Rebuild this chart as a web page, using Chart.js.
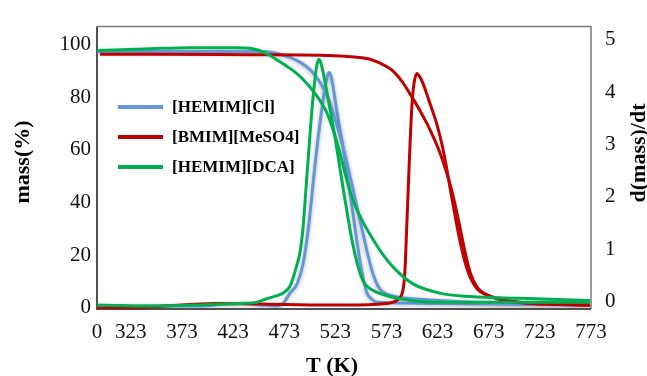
<!DOCTYPE html>
<html><head><meta charset="utf-8">
<script src="https://cdn.jsdelivr.net/npm/chart.js@4.4.1/dist/chart.umd.min.js"></script>
<style>html,body{margin:0;padding:0;background:#fff;}#wrap{width:647px;height:376px;position:relative;}</style>
</head><body><div id="wrap"><canvas id="c" width="647" height="376"></canvas></div>
<script>
// ---- ticks & labels ----
const xTickValues = [290, 323, 373, 423, 473, 523, 573, 623, 673, 723, 773];
const xTickLabels = ['0', '323', '373', '423', '473', '523', '573', '623', '673', '723', '773'];
const massTicks = [0, 20, 40, 60, 80, 100];
const rateTicks = [0, 1, 2, 3, 4, 5];
const seriesNames = ['[HEMIM][Cl]', '[BMIM][MeSO4]', '[HEMIM][DCA]'];
const seriesColors = ['#6497DA', '#C00000', '#00B050'];
const xTitle = 'T (K)';
const leftTitle = 'mass(%)';
const rightTitle = 'd(mass)/dt';

// ---- [HEMIM][Cl] ----
const clMassT = [290, 391, 452, 460, 470, 480, 490, 498, 505, 511, 516, 521, 525.6, 530.5, 534.4, 539.3, 543.2, 547.1, 551, 553.9, 557.8, 561.7, 566.6, 571, 576.4, 593, 625, 674, 772];
const clMass  = [97.4, 97.4, 97.4, 97.1, 96.3, 95.0, 93.0, 90.6, 87.4, 83.8, 79.8, 74.0, 68.0, 61.2, 55.0, 46.8, 40.0, 33.2, 26.6, 21.6, 15.6, 10.8, 7.0, 5.6, 4.7, 3.5, 2.7, 1.6, 0.9];
const clRateT = [290, 391, 415, 430, 449, 466, 472, 478.7, 485.5, 491.4, 496.3, 499.2, 502.1, 506, 509.9, 512.9, 514.9, 516.8, 518.8, 520.7, 524.6, 530.5, 535.4, 540.3, 544.2, 547.1, 551, 553.9, 558.8, 563.7, 625, 772];
const clRate  = [-0.09, -0.09, -0.05, -0.04, -0.07, -0.09, -0.04, 0.16, 0.33, 0.71, 1.34, 1.85, 2.42, 3.10, 3.68, 4.08, 4.28, 4.38, 4.31, 4.12, 3.62, 2.95, 2.32, 1.67, 1.14, 0.77, 0.38, 0.16, 0.04, -0.02, -0.04, -0.07];

// ---- [BMIM][MeSO4] ----
const msMassT = [293, 342, 440, 508, 532, 557, 574, 581, 589, 599, 606, 613, 618, 625, 630, 635, 640, 645, 650, 655, 662, 671, 681, 704, 772];
const msMass  = [96.4, 96.4, 96.2, 96.0, 95.6, 94.5, 91.5, 89.4, 85.6, 79.4, 74.8, 69.7, 65.6, 59.2, 53.6, 47.2, 39.4, 30.3, 20.8, 13.2, 7.6, 4.9, 3.5, 2.0, 0.9];
const msRateT = [290, 342, 407, 449, 518, 544, 567, 579, 584, 587, 589, 590.5, 591.5, 592.5, 593.5, 594.5, 595.5, 596.5, 597.5, 598.7, 600.2, 602.8, 605.7, 608.7, 612, 616, 622.4, 628.2, 632.1, 635.1, 639.9, 644.8, 649.7, 654.6, 661.5, 671.2, 681, 713, 772];
const msRate  = [-0.13, -0.11, -0.04, -0.05, -0.07, -0.07, -0.05, -0.02, 0.03, 0.09, 0.2, 0.42, 0.75, 1.25, 1.75, 2.25, 2.75, 3.2, 3.6, 3.95, 4.2, 4.36, 4.29, 4.17, 3.99, 3.76, 3.38, 2.92, 2.52, 2.18, 1.66, 1.16, 0.76, 0.47, 0.24, 0.12, 0.05, -0.04, -0.07];

// ---- [HEMIM][DCA] ----
const dcaMassT = [290, 342, 381, 425, 435, 442, 448, 454, 460, 469, 479, 486, 492, 498, 504, 510, 514, 518, 522, 525.6, 529.5, 533.4, 537.3, 543.2, 550, 557, 567, 581, 599, 625, 655, 704, 772];
const dcaMass  = [97.8, 98.5, 98.9, 98.9, 98.8, 98.5, 97.9, 96.9, 95.7, 93.5, 90.9, 88.8, 86.6, 84.0, 81.0, 77.5, 74.7, 70.8, 66.2, 61.6, 55.8, 49.8, 44.4, 38.0, 32.6, 27.8, 21.6, 14.8, 9.0, 5.5, 4.2, 3.5, 2.7];
const dcaRateT = [290, 342, 391, 430, 446, 456, 466, 472, 478.7, 481.6, 485.5, 488.4, 491.4, 493.3, 495.3, 498.2, 500.2, 503.1, 505, 507, 509, 510.9, 515.8, 522.6, 527.5, 531.5, 535.4, 539.3, 544.2, 548.2, 552, 558.8, 566.6, 586.2, 625, 684, 772];
const dcaRate  = [-0.07, -0.09, -0.07, -0.04, -0.02, 0.05, 0.11, 0.16, 0.29, 0.44, 0.70, 0.93, 1.40, 1.88, 2.42, 3.18, 3.68, 4.25, 4.52, 4.63, 4.55, 4.40, 3.90, 3.15, 2.55, 2.06, 1.60, 1.17, 0.74, 0.48, 0.33, 0.22, 0.15, 0.05, -0.02, -0.02, -0.02];

const SERIF = '"Liberation Serif", "Times New Roman", serif';
const pts = (xs, ys) => xs.map((x, i) => ({ x: x, y: ys[i] }));

function ds(label, color, xs, ys, axis, order, legend, shadow) {
  return {
    label: label, data: pts(xs, ys), yAxisID: axis, order: order,
    borderColor: color, backgroundColor: color, borderWidth: 3,
    pointRadius: 0, cubicInterpolationMode: 'monotone', fill: false,
    inLegend: legend, shadow: shadow
  };
}

const datasets = [
  ds(seriesNames[0], seriesColors[0], clMassT, clMass, 'y', 3, true, true),
  ds(seriesNames[1], seriesColors[1], msMassT, msMass, 'y', 2, true, false),
  ds(seriesNames[2], seriesColors[2], dcaMassT, dcaMass, 'y', 1, true, false),
  ds(seriesNames[0], seriesColors[0], clRateT, clRate, 'y2', 3, false, true),
  ds(seriesNames[1], seriesColors[1], msRateT, msRate, 'y2', 2, false, false),
  ds(seriesNames[2], seriesColors[2], dcaRateT, dcaRate, 'y2', 1, false, false)
];

const framePlugin = {
  id: 'frame',
  beforeDatasetsDraw(chart) {
    const { ctx, chartArea: a } = chart;
    ctx.save();
    ctx.strokeStyle = '#7a7a7a';
    ctx.lineWidth = 1.5;
    ctx.beginPath();
    ctx.moveTo(a.left, a.top); ctx.lineTo(a.right, a.top); ctx.lineTo(a.right, a.bottom);
    ctx.stroke();
    ctx.strokeStyle = '#505050';
    ctx.lineWidth = 2;
    ctx.beginPath();
    ctx.moveTo(a.left, a.top); ctx.lineTo(a.left, a.bottom); ctx.lineTo(a.right, a.bottom);
    ctx.stroke();
    ctx.restore();
  },
  beforeDatasetDraw(chart, args) {
    if (args.meta && chart.data.datasets[args.index].shadow) {
      chart.ctx.save();
      chart.ctx.shadowColor = 'rgba(90,90,90,0.45)';
      chart.ctx.shadowBlur = 4;
      chart.ctx.shadowOffsetY = 1;
    }
  },
  afterDatasetDraw(chart, args) {
    if (args.meta && chart.data.datasets[args.index].shadow) chart.ctx.restore();
  },
  afterDraw(chart) {
    const ctx = chart.ctx;
    ctx.save();
    ctx.fillStyle = '#000';
    ctx.font = 'bold 22px ' + SERIF;
    ctx.textAlign = 'center';
    ctx.textBaseline = 'alphabetic';
    ctx.fillText(xTitle, 332, 372);
    ctx.save(); ctx.translate(29, 162); ctx.rotate(-Math.PI / 2); ctx.fillText(leftTitle, 0, 0); ctx.restore();
    ctx.save(); ctx.translate(645, 153); ctx.rotate(-Math.PI / 2); ctx.fillText(rightTitle, 0, 0); ctx.restore();
    const items = chart.data.datasets.filter(d => d.inLegend);
    const ys = [107, 137, 167];
    ctx.font = 'bold 17px ' + SERIF;
    ctx.textAlign = 'left';
    ctx.textBaseline = 'middle';
    items.forEach((d, i) => {
      ctx.strokeStyle = d.borderColor;
      ctx.lineWidth = 4;
      ctx.beginPath(); ctx.moveTo(118, ys[i]); ctx.lineTo(163, ys[i]); ctx.stroke();
      ctx.fillText(d.label, 172, ys[i] + 1);
    });
    ctx.restore();
  }
};

const tickFont = { family: SERIF, size: 21 };

new Chart(document.getElementById('c'), {
  type: 'line',
  data: { datasets: datasets },
  options: {
    responsive: false,
    animation: false,
    layout: { padding: { top: 14, left: 0, right: 0, bottom: 0 } },
    plugins: { legend: { display: false }, tooltip: { enabled: false } },
    scales: {
      x: {
        type: 'linear', position: 'bottom', min: 290, max: 773,
        afterBuildTicks: s => { s.ticks = xTickValues.map(v => ({ value: v })); },
        afterFit: s => { s.height = 67; },
        ticks: { font: tickFont, color: '#111', padding: 11, maxRotation: 0, autoSkip: false,
          callback: (v, i) => xTickLabels[i] },
        grid: { display: false, drawTicks: false },
        border: { display: false }
      },
      y: {
        type: 'linear', position: 'left', min: -0.55, max: 106.9,
        afterBuildTicks: s => { s.ticks = massTicks.map(v => ({ value: v })); },
        afterFit: s => { s.width = 97; },
        ticks: { font: tickFont, color: '#111', padding: 6 },
        grid: { display: false, drawTicks: false },
        border: { display: false }
      },
      y2: {
        type: 'linear', position: 'right', min: -0.147, max: 5.256,
        afterBuildTicks: s => { s.ticks = rateTicks.map(v => ({ value: v })); },
        afterFit: s => { s.width = 56; },
        ticks: { font: tickFont, color: '#111', padding: 14 },
        grid: { display: false, drawTicks: false },
        border: { display: false }
      }
    }
  },
  plugins: [framePlugin]
});
</script>
</body></html>
